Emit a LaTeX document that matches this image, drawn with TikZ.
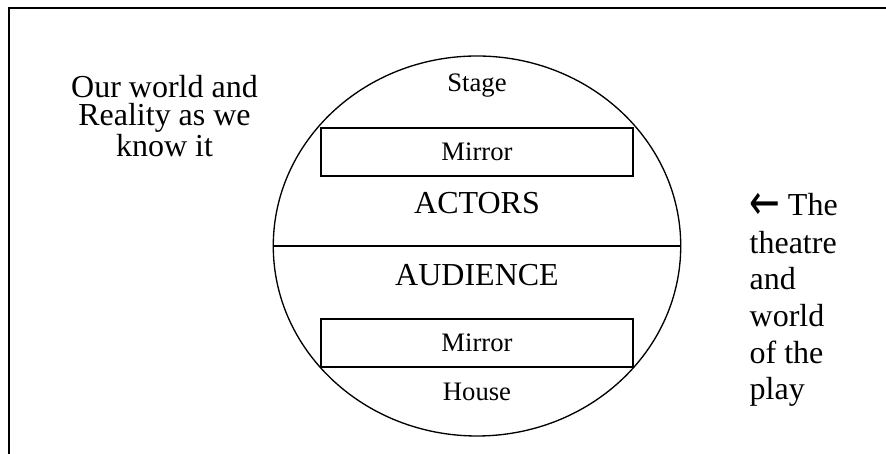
\documentclass[tikz,border=0pt]{standalone}
\usepackage{fontspec}
\setmainfont{Liberation Serif}
\newfontfamily\arrowfont{DejaVu Sans}
\usetikzlibrary{shapes.geometric}
\begin{document}
\begin{tikzpicture}[x=0.375pt,y=-0.375pt,
  big/.style={font=\fontsize{12}{13.8}\selectfont, inner sep=0pt},
  small/.style={font=\fontsize{10}{11.5}\selectfont, inner sep=0pt},
  mirrorbox/.style={draw, line width=0.5pt, minimum width=117pt, minimum height=18pt, inner sep=0pt, font=\fontsize{10}{11.5}\selectfont},
  line width=0.5pt]
\useasboundingbox (0,0) rectangle (886,454);
% frame
\coordinate (fbl) at (9,460);
\coordinate (ftl) at (9,8);
\coordinate (ftr) at (892,8);
\draw[line width=0.6pt] (fbl) -- (ftl) -- (ftr);
% theatre ellipse
\node[ellipse, draw, minimum width=152.8pt, minimum height=142.5pt, inner sep=0pt] (theatre) at (477,246) {};
\draw (theatre.west) -- (theatre.east);
% inner texts
\node[small, anchor=base] (stage) at (477,91.7) {Stage};
\node[mirrorbox] (mirrortop) at (477,152) {Mirror};
\node[big, anchor=base] (actors) at (477,214) {ACTORS};
\node[big, anchor=base] (audience) at (477,285.7) {AUDIENCE};
\node[mirrorbox] (mirrorbot) at (477,343) {Mirror};
\node[small, anchor=base] (house) at (477,401) {House};
% left text
\node[font=\fontsize{12}{10.25}\selectfont, inner sep=0pt, align=center, anchor=north] (left) at (164.5,75) {Our world and\\Reality as we\\know it};
% right text
\node[big, anchor=base west] (r1) at (749,216) {\raisebox{-1.3pt}{\scalebox{1.15}[1.55]{\arrowfont ←}}\hspace{2.8pt}The};
\node[big, anchor=base west] (r2) at (749,253.3) {theatre};
\node[big, anchor=base west] (r3) at (749,290) {and};
\node[big, anchor=base west] (r4) at (749,326.7) {world};
\node[big, anchor=base west] (r5) at (749,363.3) {of the};
\node[big, anchor=base west] (r6) at (749,400) {play};
\end{tikzpicture}
\end{document}
